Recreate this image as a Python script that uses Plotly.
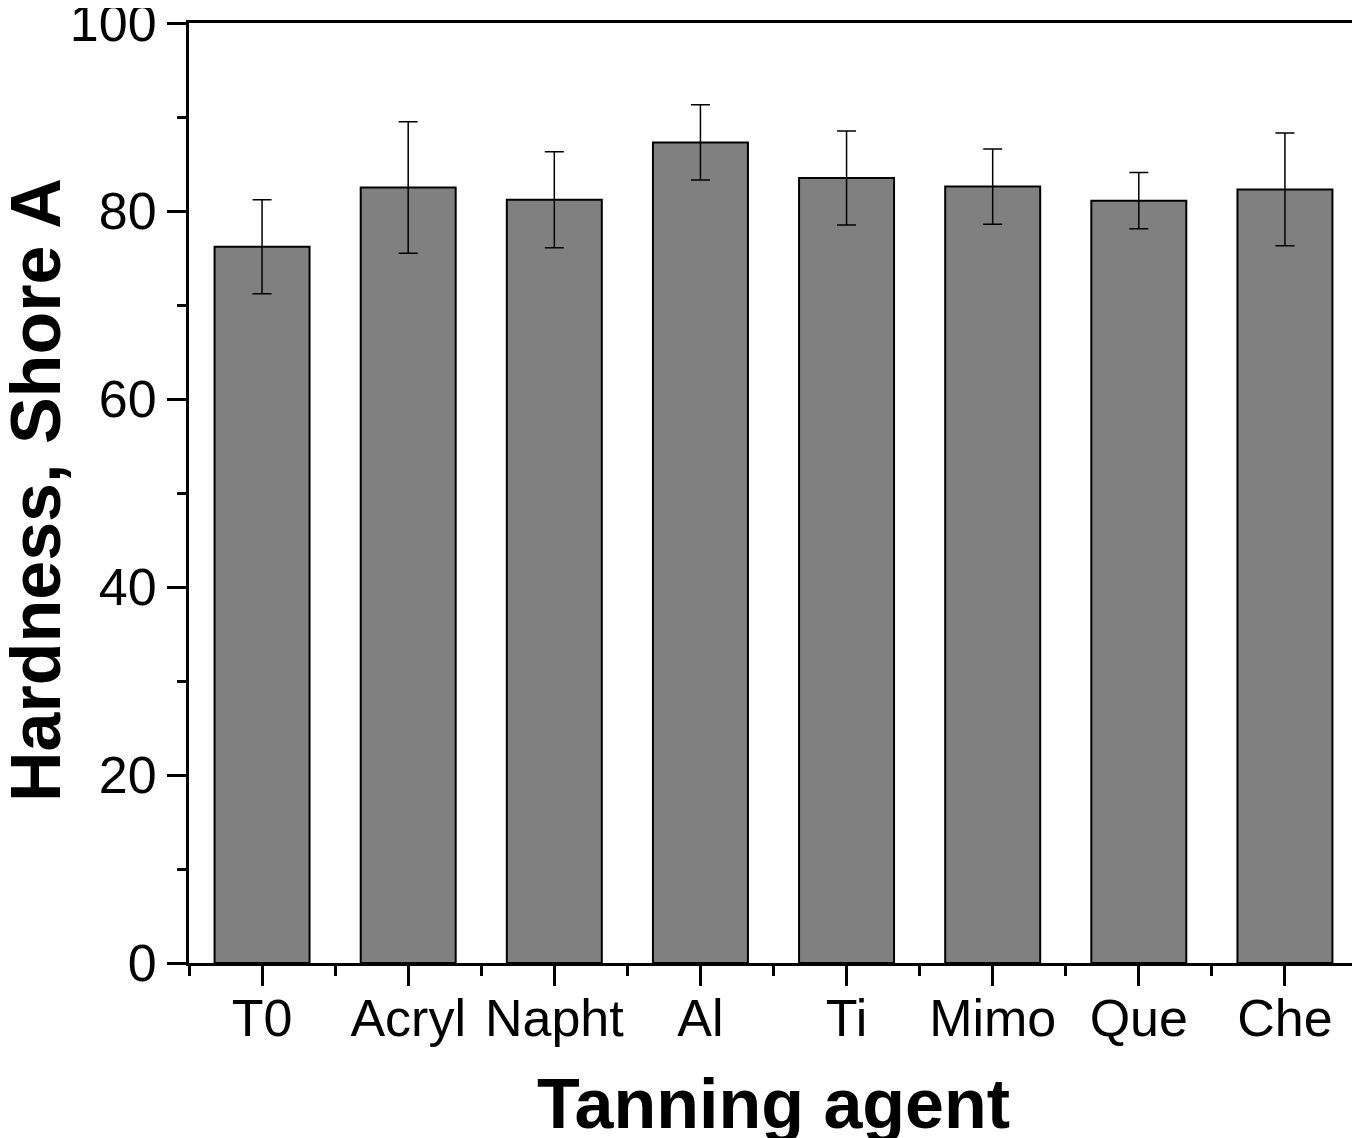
import plotly.graph_objects as go

categories = ["T0", "Acryl", "Napht", "Al", "Ti", "Mimo", "Que", "Che"]
hardness = [76.2, 82.5, 81.2, 87.3, 83.5, 82.6, 81.1, 82.3]
errors = [5.0, 7.0, 5.1, 4.0, 5.0, 4.0, 3.0, 6.0]
y_ticks = [0, 20, 40, 60, 80, 100]

x_pos = list(range(len(categories)))

fig = go.Figure()
fig.add_trace(go.Bar(
    x=x_pos, y=hardness, width=0.65,
    marker=dict(color="#808080", line=dict(color="black", width=2)),
    error_y=dict(type="data", array=errors, visible=True, color="black",
                 thickness=1.5, width=9.5),
))

axis_font = dict(family="Liberation Sans, Arial, sans-serif", size=52, color="black")
title_font = dict(family="Liberation Sans, Arial, sans-serif", size=70, color="black")

fig.update_layout(
    width=1352, height=1130,
    margin=dict(l=181, r=2, t=15, b=175),
    plot_bgcolor="white", paper_bgcolor="white",
    showlegend=False,
    annotations=[
        dict(text="<b>Hardness, Shore A</b>", font=title_font, textangle=-90,
             xref="paper", yref="paper", x=0, y=0.5, xanchor="center", yanchor="middle",
             xshift=-153, yshift=3, showarrow=False),
        dict(text="<b>Tanning agent</b>", font=title_font,
             xref="paper", yref="paper", x=0.5, y=0, xanchor="center", yanchor="middle",
             xshift=0, yshift=-141, showarrow=False),
    ],
)
fig.update_xaxes(
    automargin=False,
    range=[-0.5, 7.5],
    tickmode="array", tickvals=x_pos, ticktext=categories,
    ticks="outside", ticklen=20, tickwidth=3, tickcolor="black",
    minor=dict(tickmode="array", tickvals=[i - 0.5 for i in range(len(categories) + 1)],
               ticks="outside", ticklen=10, tickwidth=3, tickcolor="black"),
    showline=True, linecolor="black", linewidth=3, mirror=True,
    showgrid=False, zeroline=False,
    tickfont=axis_font, ticklabelstandoff=-12, ticklabeloverflow="allow",
)
fig.update_yaxes(
    automargin=False,
    range=[0, 100],
    tickmode="array", tickvals=y_ticks,
    ticks="outside", ticklen=19, tickwidth=3, tickcolor="black",
    minor=dict(dtick=10, tick0=0, ticks="outside", ticklen=9, tickwidth=3, tickcolor="black"),
    showline=True, linecolor="black", linewidth=3, mirror=True,
    showgrid=False, zeroline=False,
    tickfont=axis_font, ticklabeloverflow="allow",
)

fig.write_html("out.html")
